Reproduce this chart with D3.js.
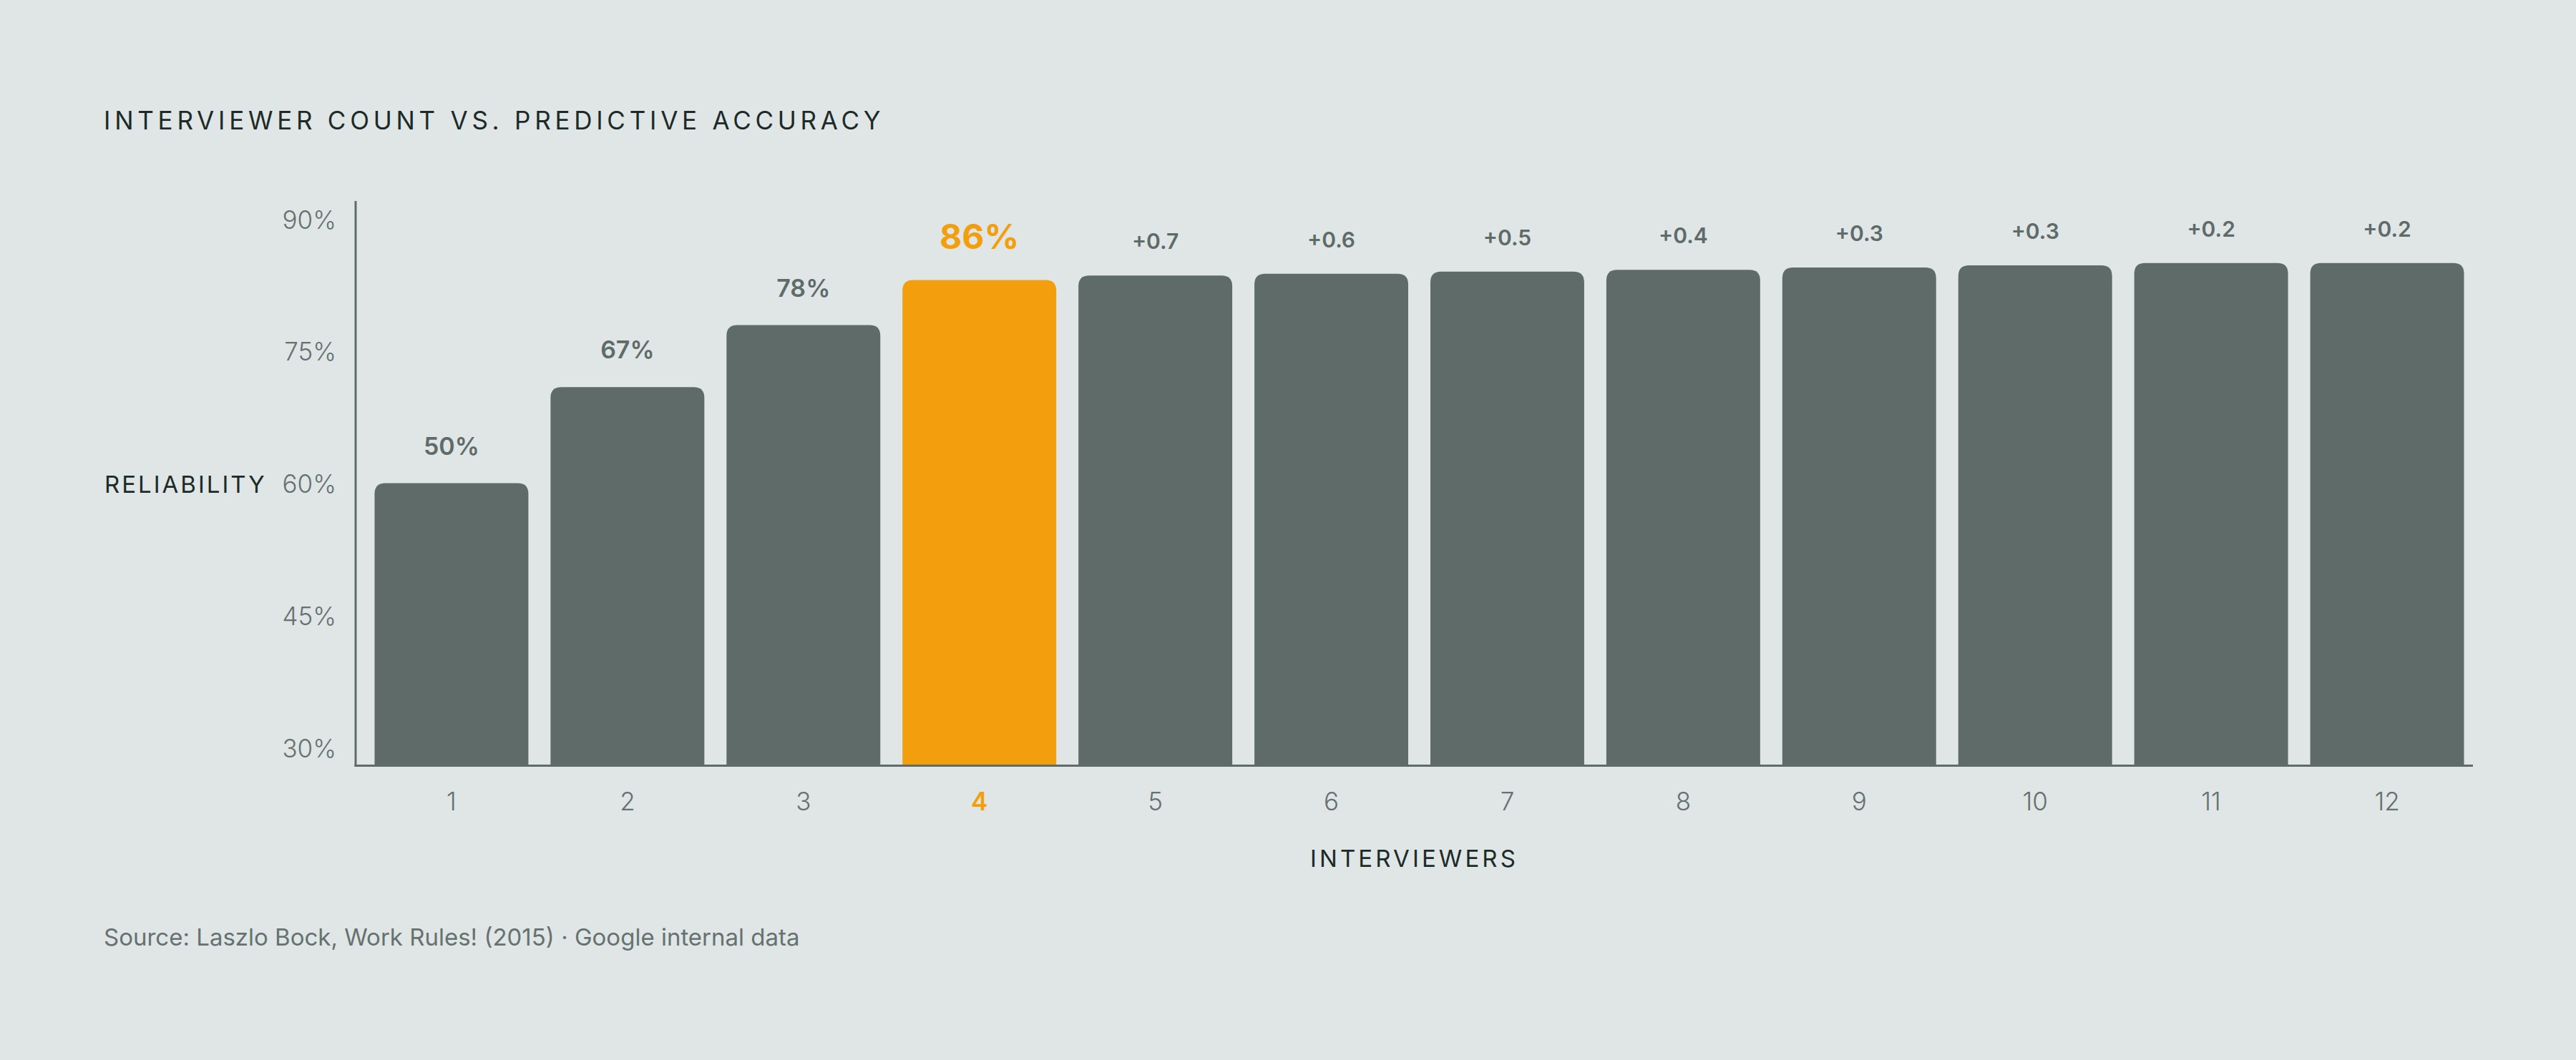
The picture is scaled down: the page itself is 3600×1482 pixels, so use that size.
<!DOCTYPE html>
<html>
<head>
<meta charset="utf-8">
<script src="https://cdn.jsdelivr.net/npm/d3@7"></script>
<style>
  html, body { margin: 0; padding: 0; background: #dfe6e5; }
  text { font-family: Inter, "Noto Sans", sans-serif; }
</style>
</head>
<body>
<div class="canvas"></div>
<script>

// data
const interviewers = ['1', '2', '3', '4', '5', '6', '7', '8', '9', '10', '11', '12'];
const reliability = [50, 67, 78, 86, 86.8, 87.1, 87.5, 87.8, 88.2, 88.6, 89.0, 89.0];
const barLabels = ['50%', '67%', '78%', '86%', '+0.7', '+0.6', '+0.5', '+0.4', '+0.3', '+0.3', '+0.2', '+0.2'];
const yTickValues = [30, 45, 60, 75, 90];
const highlight = '4';

const width = 3600, height = 1482;
const margin = { top: 281, right: 144, bottom: 412, left: 497 };
const graphWidth = width - margin.left - margin.right;
const graphHeight = height - margin.top - margin.bottom;

const grey = '#5e6b69', orange = '#f39e0c', ink = '#1d2b28', tickGrey = '#667270';

const svg = d3.select('.canvas')
    .append('svg')
    .attr('width', width)
    .attr('height', height)
    .style('background', '#dfe6e5');

// title
svg.append('text')
    .attr('x', 145).attr('y', 181)
    .attr('fill', ink)
    .style('font-size', '35px')
    .style('letter-spacing', '5.75px')
    .text('INTERVIEWER COUNT VS. PREDICTIVE ACCURACY');

const graph = svg.append('g')
    .attr('transform', `translate(${margin.left}, ${margin.top})`);

const xScale = d3.scaleBand()
    .domain(interviewers)
    .range([11, graphWidth + 3])
    .paddingInner(0.126)
    .paddingOuter(0.063);

const yScale = d3.scaleLinear()
    .domain([0, 100])
    .range([graphHeight, 0]);

// the tick labels sit on their own evenly spaced scale
const tickScale = d3.scaleLinear()
    .domain([30, 90])
    .range([graphHeight - 24, 26]);

// rounded-top bars
const r = 15;
function barPath(d, i) {
  const x0 = xScale(interviewers[i]), w = xScale.bandwidth();
  const y0 = yScale(d), y1 = yScale(0);
  return `M${x0},${y1} V${y0 + r} Q${x0},${y0} ${x0 + r},${y0} H${x0 + w - r} Q${x0 + w},${y0} ${x0 + w},${y0 + r} V${y1} Z`;
}

graph.selectAll('path.bar')
    .data(reliability)
    .enter().append('path')
    .attr('class', 'bar')
    .attr('d', barPath)
    .attr('fill', (d, i) => interviewers[i] === highlight ? orange : grey);

// value labels
graph.selectAll('text.val')
    .data(reliability)
    .enter().append('text')
    .attr('class', 'val')
    .attr('x', (d, i) => xScale(interviewers[i]) + xScale.bandwidth() / 2)
    .attr('y', (d, i) => {
      if (interviewers[i] === highlight) return yScale(d) - 43;
      return yScale(d) - (barLabels[i][0] === '+' ? 37 : 40);
    })
    .attr('text-anchor', 'middle')
    .attr('fill', (d, i) => interviewers[i] === highlight ? orange : grey)
    .style('font-weight', (d, i) => interviewers[i] === highlight ? 700 : 600)
    .style('font-size', (d, i) => interviewers[i] === highlight ? '48px' : (barLabels[i][0] === '+' ? '30px' : '34px'))
    .text((d, i) => barLabels[i]);

// axes lines
graph.append('line')
    .attr('x1', 0).attr('x2', 0)
    .attr('y1', 0).attr('y2', graphHeight + 2)
    .attr('stroke', grey).attr('stroke-width', 3);

graph.append('line')
    .attr('x1', -1.5).attr('x2', graphWidth)
    .attr('y1', graphHeight + 0.5).attr('y2', graphHeight + 0.5)
    .attr('stroke', grey).attr('stroke-width', 3);

// y tick labels
graph.selectAll('text.ytick')
    .data(yTickValues)
    .enter().append('text')
    .attr('class', 'ytick')
    .attr('x', -27)
    .attr('y', d => tickScale(d))
    .attr('dy', '0.36em')
    .attr('text-anchor', 'end')
    .attr('fill', tickGrey)
    .style('font-size', '35px')
    .style('font-weight', 300)
    .text(d => d + '%');

// x tick labels
graph.selectAll('text.xtick')
    .data(interviewers)
    .enter().append('text')
    .attr('class', 'xtick')
    .attr('x', d => xScale(d) + xScale.bandwidth() / 2)
    .attr('y', graphHeight + 63)
    .attr('text-anchor', 'middle')
    .attr('fill', d => d === highlight ? orange : tickGrey)
    .style('font-size', '35px')
    .style('font-weight', d => d === highlight ? 600 : 300)
    .text(d => d);

// axis titles
svg.append('text')
    .attr('x', 146).attr('y', tickScale(60) + margin.top + 12.5)
    .attr('fill', ink)
    .style('font-size', '33px')
    .style('letter-spacing', '3px')
    .text('RELIABILITY');

svg.append('text')
    .attr('x', margin.left + graphWidth / 2).attr('y', 1212)
    .attr('text-anchor', 'middle')
    .attr('fill', ink)
    .style('font-size', '33px')
    .style('letter-spacing', '4.1px')
    .text('INTERVIEWERS');

// source
svg.append('text')
    .attr('x', 145).attr('y', 1322)
    .attr('fill', tickGrey)
    .style('font-size', '33px')
    .text('Source: Laszlo Bock, Work Rules! (2015) · Google internal data');

</script>
</body>
</html>
